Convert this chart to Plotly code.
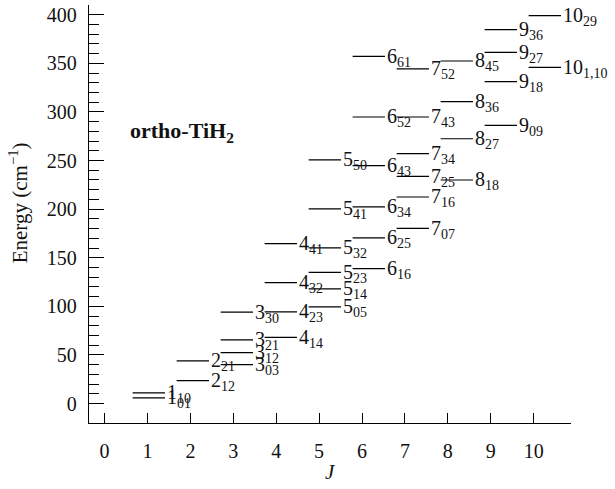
import plotly.graph_objects as go

# Rotational levels of ortho-TiH2: J, Ka, Kc and energy (cm^-1)
J_vals  = [1, 1, 2, 2, 3, 3, 3, 3, 4, 4, 4, 4, 5, 5, 5, 5, 5, 5,
           6, 6, 6, 6, 6, 6, 7, 7, 7, 7, 7, 7, 8, 8, 8, 8, 9, 9, 9, 9, 10, 10]
Ka_vals = [0, 1, 1, 2, 0, 1, 2, 3, 1, 2, 3, 4, 0, 1, 2, 3, 4, 5,
           1, 2, 3, 4, 5, 6, 0, 1, 2, 3, 4, 5, 1, 2, 3, 4, 0, 1, 2, 3, 1, 2]
Kc_vals = [1, 0, 2, 1, 3, 2, 1, 0, 4, 3, 2, 1, 5, 4, 3, 2, 1, 0,
           6, 5, 4, 3, 2, 1, 7, 6, 5, 4, 3, 2, 8, 7, 6, 5, 9, 8, 7, 6, 10, 9]
energy  = [5.9, 11.0, 23.6, 43.9, 40.1, 52.4, 65.5, 94.0,
           68.0, 94.3, 124.4, 164.5,
           99.4, 117.9, 135.0, 160.1, 200.2, 250.6,
           138.8, 170.4, 202.3, 244.7, 294.8, 357.1,
           180.3, 212.5, 233.7, 257.1, 294.8, 344.2,
           230.0, 272.4, 310.5, 352.4,
           286.2, 331.1, 361.2, 384.6,
           345.8, 399.0]

x_ticks = list(range(0, 11))
y_ticks = [0, 50, 100, 150, 200, 250, 300, 350, 400]
y_minor = [v for v in range(10, 400, 10) if v % 50 != 0]

FONT = "Liberation Serif, Times New Roman, serif"

# segment geometry (layout, not data)
seg_start0, seg_step, seg_w = 0.654, 1.0254, 0.754

xs, ys = [], []
annotations = []
for J, ka, kc, E in zip(J_vals, Ka_vals, Kc_vals, energy):
    x0 = seg_start0 + (J - 1) * seg_step
    x1 = x0 + seg_w
    xs += [x0, x1, None]
    ys += [E, E, None]
    sub = f"{ka},{kc}" if kc >= 10 else f"{ka}{kc}"
    annotations.append(dict(
        x=x1, y=E, xref="x", yref="y", text=f"{J}<sub>{sub}</sub>",
        showarrow=False, xanchor="left", yanchor="middle",
        xshift=0, yshift=-1, font=dict(family=FONT, size=20, color="#111")))

annotations.append(dict(
    x=0.54, y=279, xref="x", yref="y", text="<b>ortho-TiH<sub>2</sub></b>",
    showarrow=False, xanchor="left", yanchor="middle",
    font=dict(family=FONT, size=22, color="#111")))

# axis titles
annotations.append(dict(
    x=-0.147, y=0.526, xref="paper", yref="paper",
    text="Energy (cm<sup>−1</sup>)", textangle=-90, showarrow=False,
    xanchor="center", yanchor="middle",
    font=dict(family=FONT, size=21, color="#111")))
annotations.append(dict(
    x=0.5, y=-0.117, xref="paper", yref="paper",
    text="<i>J</i>", showarrow=False,
    xanchor="center", yanchor="middle",
    font=dict(family=FONT, size=21, color="#111")))

fig = go.Figure()
fig.add_trace(go.Scatter(x=xs, y=ys, mode="lines",
                         line=dict(color="black", width=1.2),
                         hoverinfo="skip", showlegend=False))

fig.update_layout(
    width=615, height=489,
    margin=dict(l=89, r=44, t=5, b=66),
    paper_bgcolor="white", plot_bgcolor="white",
    font=dict(family=FONT, size=20, color="#111"),
    annotations=annotations,
    showlegend=False,
)
fig.update_xaxes(
    range=[-0.363, 10.87], tickmode="array", tickvals=x_ticks,
    ticktext=[str(v) for v in x_ticks],
    ticks="inside", ticklen=10, tickwidth=1, tickcolor="black",
    showline=True, linecolor="black", linewidth=1.3,
    showgrid=False, zeroline=False, ticklabelstandoff=10,
    automargin=False,
)
fig.update_yaxes(
    range=[-20, 410], tickmode="array", tickvals=y_ticks,
    ticktext=[str(v) for v in y_ticks],
    ticks="inside", ticklen=15, tickwidth=1, tickcolor="black",
    minor=dict(tickmode="array", tickvals=y_minor, ticks="inside",
               ticklen=10, tickwidth=1, tickcolor="black"),
    showline=True, linecolor="black", linewidth=1.3,
    showgrid=False, zeroline=False, ticklabelstandoff=7,
    automargin=False,
)

fig.write_html("out.html",
               config={"displayModeBar": False},
               post_script="document.body.style.margin='0px';"
                           "document.body.style.overflow='hidden';")
